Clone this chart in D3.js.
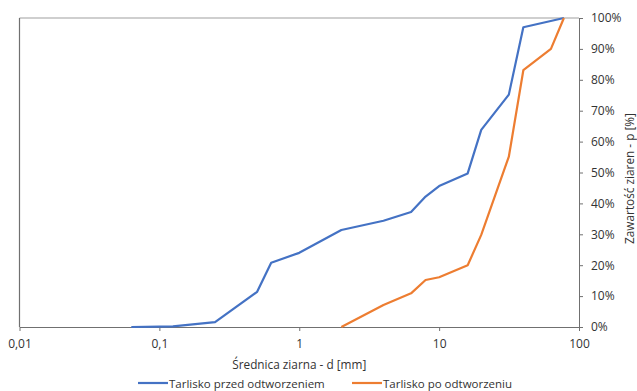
<!DOCTYPE html>
<html>
<head>
<meta charset="utf-8">
<script src="https://cdn.jsdelivr.net/npm/d3@7"></script>
<style>
  body { margin: 0; background: #fff; }
  text { font-family: "Open Sans", sans-serif; fill: #333; }
</style>
</head>
<body>
<div id="chart"></div>
<script>
var svgWidth = 637;
var svgHeight = 391;

var margin = {top: 18, right: 58, bottom: 64, left: 19.5};

var width = svgWidth - margin.left - margin.right;
var height = svgHeight - margin.top - margin.bottom;

// data: grain diameter [mm] and cumulative content [%]
var beforeD = [0.063, 0.1, 0.125, 0.25, 0.5, 0.63, 1, 2, 4, 6.3, 8, 10, 16, 20, 31.5, 40, 78];
var beforeP = [0, 0.1, 0.2, 1.6, 11.4, 20.8, 24, 31.4, 34.4, 37.2, 42.2, 45.6, 49.7, 63.8, 75.2, 97, 100];

var afterD = [2, 4, 6.3, 8, 10, 16, 20, 31.5, 40, 63, 78];
var afterP = [0, 7.1, 10.9, 15.2, 16.1, 20, 29.8, 55.1, 83.1, 90, 100];

var xTicks = [0.01, 0.1, 1, 10, 100];
var xTickLabels = ["0,01", "0,1", "1", "10", "100"];
var yTicks = [0, 10, 20, 30, 40, 50, 60, 70, 80, 90, 100];

var seriesNames = ["Tarlisko przed odtworzeniem", "Tarlisko po odtworzeniu"];
var seriesColors = ["#4472c4", "#ed7d31"];

var svg = d3.select("#chart")
  .append("svg")
  .attr("width", svgWidth)
  .attr("height", svgHeight);

var chartGroup = svg.append("g")
  .attr("transform", `translate(${margin.left}, ${margin.top})`);

var xScale = d3.scaleLog().domain([0.01, 100]).range([0, width]);
var yScale = d3.scaleLinear().domain([0, 100]).range([height, 0]);

// plot border (top and left)
chartGroup.append("line")
  .attr("x1", 0).attr("x2", width).attr("y1", 0).attr("y2", 0)
  .attr("stroke", "#a0a0a0").attr("stroke-width", 1.2);
chartGroup.append("line")
  .attr("x1", 0).attr("x2", 0).attr("y1", 0).attr("y2", height)
  .attr("stroke", "#707070").attr("stroke-width", 1.2);

// bottom axis
var bottomAxis = d3.axisBottom(xScale)
  .tickValues(xTicks)
  .tickFormat((d, i) => xTickLabels[i])
  .tickSize(4)
  .tickSizeOuter(0)
  .tickPadding(8);

var xAxis = chartGroup.append("g")
  .attr("transform", `translate(0, ${height})`)
  .call(bottomAxis);
xAxis.select(".domain").attr("stroke", "#707070");
xAxis.selectAll(".tick line").attr("stroke", "#707070");
xAxis.selectAll("text").attr("font-size", "12px").attr("fill", "#333");

// right axis
var rightAxis = d3.axisRight(yScale)
  .tickValues(yTicks)
  .tickFormat(d => d + "%")
  .tickSize(4)
  .tickSizeOuter(0)
  .tickPadding(8);

var yAxis = chartGroup.append("g")
  .attr("transform", `translate(${width}, 0)`)
  .call(rightAxis);
yAxis.select(".domain").attr("stroke", "#707070");
yAxis.selectAll(".tick line").attr("stroke", "#707070");
yAxis.selectAll("text").attr("font-size", "12px").attr("fill", "#333");

// lines
var line = d3.line()
  .x(d => xScale(d[0]))
  .y(d => yScale(d[1]));

var series = [
  d3.zip(beforeD, beforeP),
  d3.zip(afterD, afterP)
];

chartGroup.selectAll(".series")
  .data(series)
  .enter()
  .append("path")
  .attr("class", "series")
  .attr("d", line)
  .attr("fill", "none")
  .attr("stroke", (d, i) => seriesColors[i])
  .attr("stroke-width", 2.2)
  .attr("stroke-linejoin", "round");

// axis titles
chartGroup.append("text")
  .attr("x", xScale(1))
  .attr("y", height + 42)
  .attr("text-anchor", "middle")
  .attr("font-size", "11.8px")
  .text("Średnica ziarna - d [mm]");

chartGroup.append("text")
  .attr("transform", `translate(${width + 55}, ${height / 2 + 6}) rotate(-90)`)
  .attr("text-anchor", "middle")
  .attr("font-size", "11.8px")
  .text("Zawartość ziaren - p [%]");

// legend
var legendX = [138, 352];
var legend = svg.selectAll(".legend")
  .data(seriesNames)
  .enter()
  .append("g")
  .attr("class", "legend")
  .attr("transform", (d, i) => `translate(${legendX[i]}, 383)`);

legend.append("line")
  .attr("x1", 0).attr("x2", 30).attr("y1", 0).attr("y2", 0)
  .attr("stroke", (d, i) => seriesColors[i])
  .attr("stroke-width", 2.2);

legend.append("text")
  .attr("x", 31)
  .attr("y", 4.5)
  .attr("font-size", "11.5px")
  .text(d => d);
</script>
</body>
</html>
